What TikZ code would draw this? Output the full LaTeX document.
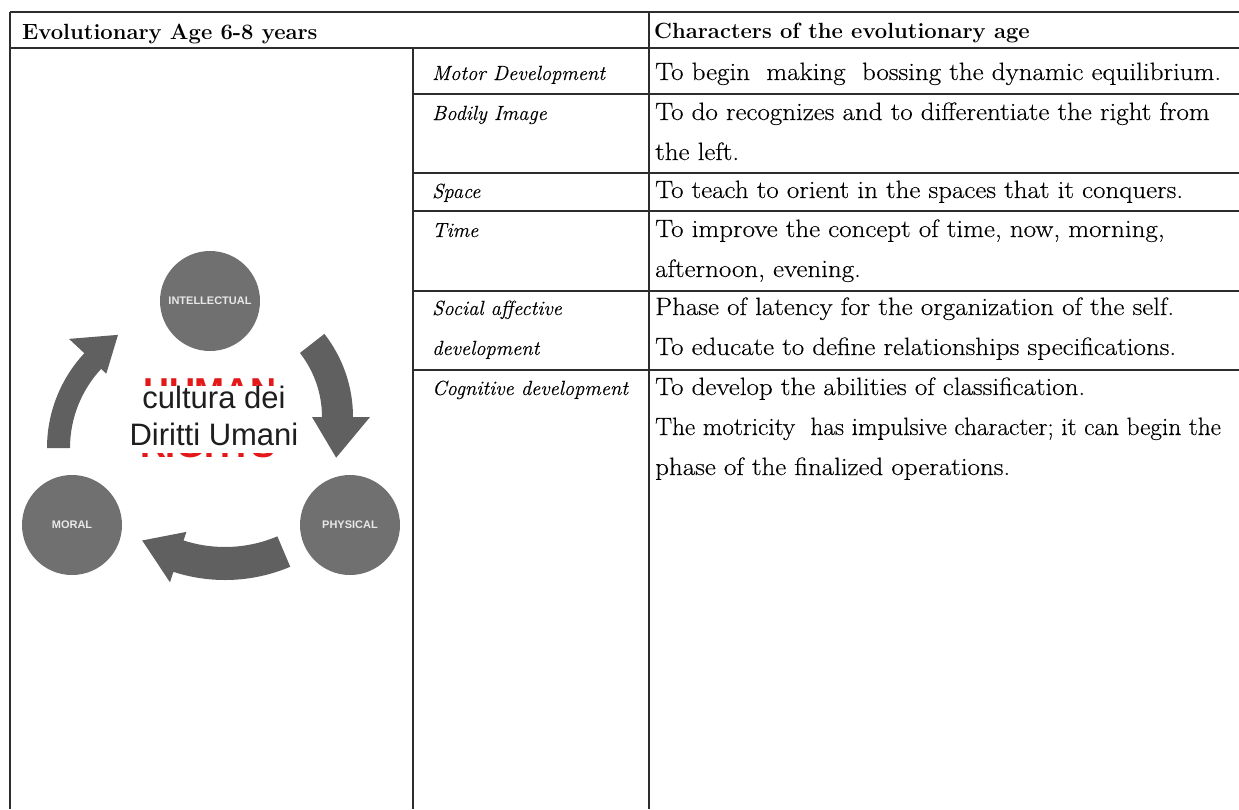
\documentclass[tikz,border=0pt]{standalone}
\usepackage{fontspec}
\newfontfamily\diagramsans{Liberation Sans}
\newfontfamily\bodyserif{Latin Modern Roman}[FakeStretch=1.08,FakeBold=0.3]
\newfontfamily\bodyseriftight{Latin Modern Roman}[FakeStretch=1.01,FakeBold=0.3]
\newfontfamily\labelserif{Latin Modern Roman}[FakeBold=0.3]
\usetikzlibrary{calc}
\definecolor{rulecol}{RGB}{45,45,45}
\definecolor{discgray}{RGB}{112,112,112}
\definecolor{arrowgray}{RGB}{96,96,96}
\definecolor{disclabel}{RGB}{232,232,232}
\definecolor{titlered}{RGB}{228,24,24}
\definecolor{inkblack}{RGB}{30,30,30}

\begin{document}
\begin{tikzpicture}[x=1pt,y=-1pt,
  tblrule/.style={draw=rulecol,line width=2pt},
  headtxt/.style={anchor=base west,inner sep=0pt,font=\fontsize{22}{26}\selectfont\bfseries},
  bodytxt/.style={anchor=base west,inner sep=0pt,font=\bodyserif\fontsize{25}{30}\selectfont},
  bodytight/.style={anchor=base west,inner sep=0pt,font=\bodyseriftight\fontsize{25}{30}\selectfont},
  labeltxt/.style={anchor=base west,inner sep=0pt,font=\labelserif\fontsize{20.5}{24}\selectfont\itshape},
  disc/.style={circle,fill=discgray,minimum size=100pt,inner sep=0pt,text=disclabel,
    font=\diagramsans\bfseries\fontsize{11}{13}\selectfont},
  arrowband/.style={fill=arrowgray},
  redword/.style={anchor=base,inner sep=0pt,text=titlered,font=\diagramsans\bfseries\fontsize{36}{40}\selectfont},
  centretxt/.style={anchor=base,inner sep=0pt,text=inkblack,font=\diagramsans\fontsize{31}{36}\selectfont},
]
\useasboundingbox (0,0) rectangle (1239,809);
\fill[white] (0,0) rectangle (1239,809);

% ---------- table rules ----------
\draw[tblrule] (10,12) -- (1239,12);
\draw[tblrule] (10,48) -- (1239,48);
\draw[tblrule] (10,12) -- (10,809);
\draw[tblrule] (649,12) -- (649,809);
\draw[tblrule] (413,48) -- (413,809);
\foreach \yy in {94,173,211,291,370}
  \draw[tblrule] (413,\yy) -- (1239,\yy);

% ---------- header ----------
\node[headtxt] (hleft) at (22,39) {Evolutionary Age 6-8 years};
\node[headtxt] (hright) at (654,38) {Characters of the evolutionary age};

% ---------- labels ----------
\node[labeltxt] (lmotor) at (432,80) {Motor Development};
\node[labeltxt] (lbody) at (432,120) {Bodily Image};
\node[labeltxt] (lspace) at (432,198) {Space};
\node[labeltxt] (ltime) at (432,237) {Time};
\node[labeltxt] (lsocial) at (432,315) {Social affective};
\node[labeltxt] (lsocialb) at (432,355) {development};
\node[labeltxt] (lcog) at (432,395) {Cognitive development};

% ---------- descriptions ----------
\node[bodytxt] (dmotor) at (655,80) {To begin\ \ making\ \ bossing the dynamic equilibrium.};
\node[bodytxt] (dbody) at (655,120) {To do recognizes and to differentiate the right from};
\node[bodytxt] (dbodyb) at (655,160) {the left.};
\node[bodytxt] (dspace) at (655,198) {To teach to orient in the spaces that it conquers.};
\node[bodytxt] (dtime) at (655,237) {To improve the concept of time, now, morning,};
\node[bodytxt] (dtimeb) at (655,277) {afternoon, evening.};
\node[bodytxt] (dsocial) at (655,315) {Phase of latency for the organization of the self.};
\node[bodytxt] (dsocialb) at (655,355) {To educate to define relationships specifications.};
\node[bodytxt] (dcog) at (655,395) {To develop the abilities of classification.};
\node[bodytight] (dcogb) at (655,435) {The motricity\ \ has impulsive character; it can begin the};
\node[bodytxt] (dcogc) at (655,475) {phase of the finalized operations.};

% ---------- cycle: three discs ----------
\node[disc] (intel) at (210,301) {INTELLECTUAL};
\node[disc] (moral) at (72,525) {MORAL};
\node[disc] (phys) at (350,525) {PHYSICAL};

% ---------- cycle: curved arrows ----------
% intellectual -> physical
\fill[arrowband] ([shift={(218,417)}]-38:104) -- ([shift={(218,417)}]-38:135)
  arc[start angle=-38,end angle=0,radius=135]
  -- ([shift={(218,417)}]0:152) -- ([shift={(218,417)}]19:125) -- ([shift={(218,417)}]0:94)
  -- ([shift={(218,417)}]0:104) arc[start angle=0,end angle=-38,radius=104] -- cycle;
% physical -> moral
\fill[arrowband] ([shift={(225,413)}]67:134) -- ([shift={(225,413)}]67:167)
  arc[start angle=67,end angle=108,radius=167]
  -- ([shift={(225,413)}]108:178) -- ([shift={(225,413)}]123:152) -- ([shift={(225,413)}]108:125)
  -- ([shift={(225,413)}]108:134) arc[start angle=108,end angle=67,radius=134] -- cycle;
% moral -> intellectual
\fill[arrowband] ([shift={(186,448)}]180:116) -- ([shift={(186,448)}]180:139)
  arc[start angle=180,end angle=223,radius=139]
  -- ([shift={(186,448)}]223:160) -- ([shift={(186,448)}]239:132) -- ([shift={(186,448)}]223:109)
  -- ([shift={(186,448)}]223:116) arc[start angle=223,end angle=180,radius=116] -- cycle;

% ---------- centre title, mostly covered by the white panel ----------
\node[redword] (rtop) at (210,403) {HUMAN};
\node[redword] (rbot) at (208,457) {RIGHTS};
\node[fill=white,inner sep=0pt,minimum width=194pt,minimum height=67pt] (cover) at (214,419.5) {};
\node[centretxt] (ctop) at (214,408) {cultura dei};
\node[centretxt] (cbot) at (214,445) {Diritti Umani};
\end{tikzpicture}
\end{document}
